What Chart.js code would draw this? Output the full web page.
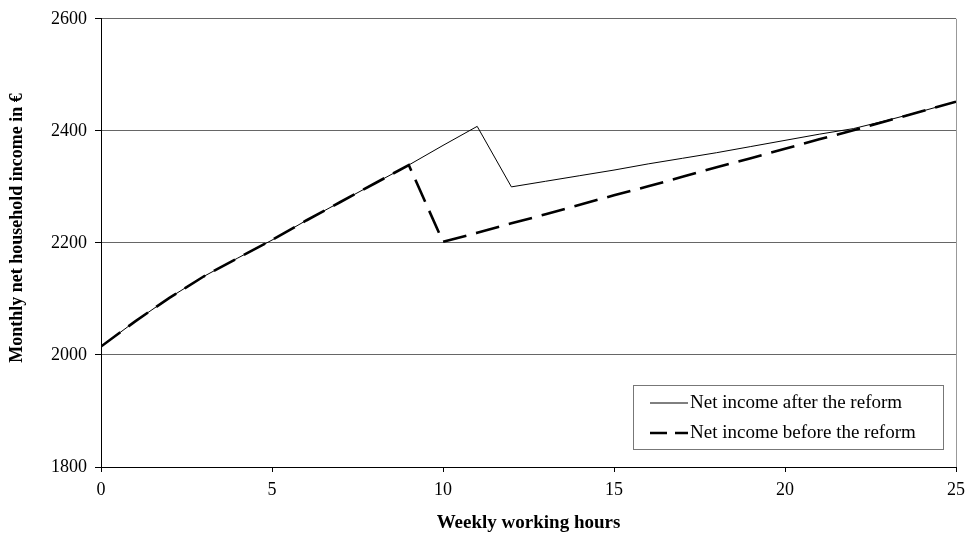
<!DOCTYPE html>
<html>
<head>
<meta charset="utf-8">
<script src="https://cdn.jsdelivr.net/npm/chart.js@4"></script>
<style>
  html, body { margin: 0; padding: 0; background: #fff; }
  #wrap { width: 967px; height: 537px; position: relative; }
</style>
</head>
<body>
<div id="wrap"><canvas id="c"></canvas></div>
<script>
const hours = [0,1,2,3,4,5,6,7,8,9,10,11,12,13,14,15,16,17,18,19,20,21,22,23,24,25];
const afterReform  = [2015,2060,2102,2140,2173,2205,2240,2273,2306,2339,2374,2408,2300,2310,2320,2330,2341,2351,2361,2372,2383,2394,2404,2419,2435,2452];
const beforeReform = [2015,2060,2102,2140,2173,2205,2240,2273,2306,2339,2202,2218,2235,2251,2268,2285,2301,2318,2335,2351,2368,2385,2401,2418,2435,2452];
const seriesLabels = ['Net income after the reform', 'Net income before the reform'];
const xTitle = 'Weekly working hours';
const yTitle = 'Monthly net household income in €';
const yTicks = [1800, 2000, 2200, 2400, 2600];
const xTicks = [0, 5, 10, 15, 20, 25];

const FONT = '"Liberation Serif", "Times New Roman", serif';

const legendPlugin = {
  id: 'boxLegend',
  afterDraw(chart) {
    const ctx = chart.ctx;
    const x0 = 633, y0 = 385, w = 310, h = 64;
    ctx.save();
    ctx.fillStyle = '#fff';
    ctx.fillRect(x0, y0, w, h);
    ctx.strokeStyle = '#777';
    ctx.lineWidth = 1;
    ctx.strokeRect(x0 + 0.5, y0 + 0.5, w, h);
    const rows = [403, 433];
    chart.data.datasets.forEach((ds, i) => {
      const y = rows[i];
      ctx.beginPath();
      ctx.strokeStyle = ds.borderColor;
      ctx.lineWidth = ds.borderWidth;
      ctx.setLineDash(i === 1 ? [17, 8] : []);
      ctx.moveTo(650, y);
      ctx.lineTo(688, y);
      ctx.stroke();
      ctx.setLineDash([]);
      ctx.fillStyle = '#000';
      ctx.font = '19px ' + FONT;
      ctx.textBaseline = 'middle';
      ctx.textAlign = 'left';
      ctx.fillText(ds.label, 690, y);
    });
    ctx.restore();
  }
};

const yTitlePlugin = {
  id: 'yTitle',
  afterDraw(chart) {
    const ctx = chart.ctx;
    ctx.save();
    ctx.translate(17, 228);
    ctx.rotate(-Math.PI / 2);
    ctx.fillStyle = '#000';
    ctx.font = 'bold 18px ' + FONT;
    ctx.textAlign = 'center';
    ctx.textBaseline = 'middle';
    ctx.fillText(yTitle, 0, 0);
    ctx.restore();
  }
};

new Chart(document.getElementById('c'), {
  type: 'line',
  data: {
    datasets: [
      {
        label: seriesLabels[0],
        data: hours.map((h, i) => ({ x: h, y: afterReform[i] })),
        borderColor: '#000',
        borderWidth: 1,
        pointRadius: 0,
        tension: 0,
        fill: false
      },
      {
        label: seriesLabels[1],
        data: hours.map((h, i) => ({ x: h, y: beforeReform[i] })),
        borderColor: '#000',
        borderWidth: 2.6,
        borderDash: [24, 10],
        pointRadius: 0,
        tension: 0,
        fill: false
      }
    ]
  },
  options: {
    responsive: true,
    maintainAspectRatio: false,
    animation: false,
    devicePixelRatio: 1,
    layout: { padding: { top: 16, right: 11, bottom: 0, left: 0 } },
    plugins: { legend: { display: false }, tooltip: { enabled: false } },
    scales: {
      x: {
        type: 'linear',
        min: 0, max: 25,
        afterFit(s) { s.height = 70; s.paddingRight = 0; },
        afterBuildTicks(s) { s.ticks = xTicks.map(v => ({ value: v })); },
        ticks: { color: '#000', font: { family: FONT, size: 18 }, padding: 7, maxRotation: 0,
                 callback: (v) => String(v) },
        grid: {
          drawOnChartArea: true,
          color: (c) => (c.tick && c.tick.value === 25) ? '#999' : 'rgba(0,0,0,0)',
          tickColor: '#000',
          tickLength: 5,
          lineWidth: 1
        },
        border: { display: true, color: '#000', width: 1 },
        title: {
          display: true, text: xTitle, color: '#000',
          font: { family: FONT, size: 19, weight: 'bold' },
          padding: { top: 0, bottom: 3 }
        }
      },
      y: {
        min: 1800, max: 2600,
        afterFit(s) { s.width = 101; },
        afterBuildTicks(s) { s.ticks = yTicks.map(v => ({ value: v })); },
        ticks: { color: '#000', font: { family: FONT, size: 18 }, padding: 8,
                 callback: (v) => String(v) },
        grid: { color: '#666', tickColor: '#000', tickLength: 6, lineWidth: 1 },
        border: { display: true, color: '#000', width: 1 },
        title: { display: false }
      }
    }
  },
  plugins: [legendPlugin, yTitlePlugin]
});
</script>
</body>
</html>
